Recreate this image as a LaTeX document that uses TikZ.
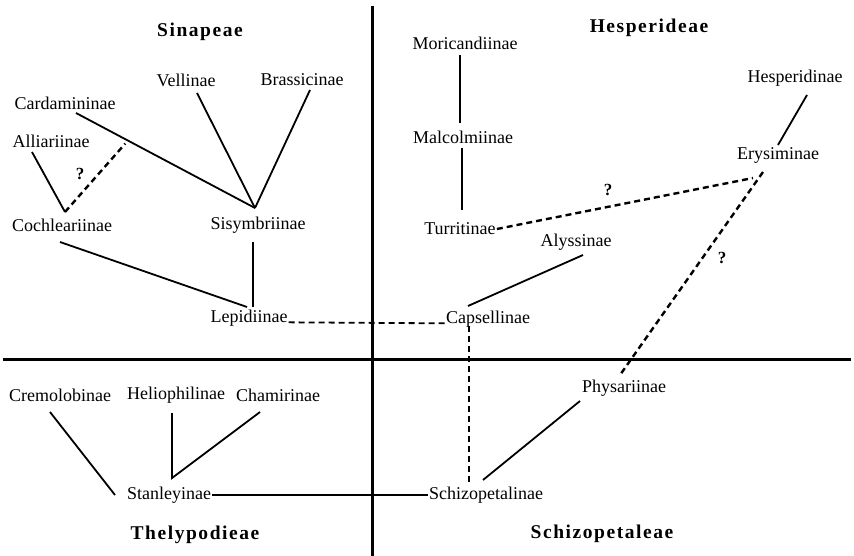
\documentclass[tikz,border=0pt]{standalone}
\usepackage{fontspec}
\setmainfont{Liberation Serif}
\newfontfamily\headfont[LetterSpace=8]{Liberation Serif}
\tikzstyle{link} = [line width=1.8pt]

\begin{document}
\begin{tikzpicture}
        [
            x=1pt, y=-1pt,
            tribe/.style={font=\headfont\bfseries\fontsize{19.5}{22}\selectfont, inner sep=0pt},
            sub/.style={font=\fontsize{18}{20}\selectfont, inner sep=1pt},
            qmark/.style={font=\bfseries\fontsize{17}{19}\selectfont, inner sep=0pt},
            guess/.style={line width=2.4pt, dash pattern=on 6pt off 4pt},
            axis/.style={line width=3pt},
        ]
    \useasboundingbox (0,0) rectangle (854,556);
    \fill[white] (0,0) rectangle (854,556);

    % quadrants
    \draw[axis] (372,6) -- (372,556);
    \draw[axis] (3,359) -- (851,359);

    \node[tribe] (sinap) at (200,32) {Sinapeae};
    \node[tribe] (hesp) at (649,28) {Hesperideae};
    \node[tribe] (thely) at (195,535) {Thelypodieae};
    \node[tribe] (schizh) at (602,534) {Schizopetaleae};

    \node[sub] (vell) at (186,80) {Vellinae};
    \node[sub] (brass) at (302,80) {Brassicinae};
    \node[sub] (cardam) at (65,103) {Cardamininae};
    \node[sub] (alliar) at (51,141) {Alliariinae};
    \node[sub] (cochl) at (62,225) {Cochleariinae};
    \node[sub] (sisym) at (258,225) {Sisymbriinae};
    \node[sub] (lepid) at (249,318) {Lepidiinae};

    \node[sub] (moric) at (465,43) {Moricandiinae};
    \node[sub] (malco) at (463,137) {Malcolmiinae};
    \node[sub] (turri) at (460,229) {Turritinae};
    \node[sub] (alyss) at (576,242) {Alyssinae};
    \node[sub] (capse) at (488,319) {Capsellinae};
    \node[sub] (hespe) at (795,78) {Hesperidinae};
    \node[sub] (erysi) at (778,155) {Erysiminae};
    \node[sub] (physa) at (624,388) {Physariinae};

    \node[sub] (cremo) at (60,395) {Cremolobinae};
    \node[sub] (helio) at (176,395) {Heliophilinae};
    \node[sub] (chami) at (278,395) {Chamirinae};
    \node[sub] (stanl) at (169,495) {Stanleyinae};
    \node[sub] (schiz) at (486,495) {Schizopetalinae};

    \node[qmark] (q1) at (80,174) {?};
    \node[qmark] (q2) at (608,190) {?};
    \node[qmark] (q3) at (722,258) {?};

    % Sinapeae
    \draw[link] ([shift={(11,10)}]cardam.center) -- ([shift={(-3,-17)}]sisym.center)
        coordinate[pos=0.29] (cardjoin);
    \draw[link] ([shift={(11,13)}]vell.center) -- ([shift={(-3,-17)}]sisym.center);
    \draw[link] ([shift={(8,10)}]brass.center) -- ([shift={(-3,-17)}]sisym.center);
    \draw[link] ([shift={(-19,11)}]alliar.center) -- ([shift={(3,-13)}]cochl.center);
    \draw[guess, shorten >=4pt] ([shift={(3,-13)}]cochl.center) -- (cardjoin);
    \draw[link] ([shift={(-5,17)}]sisym.center) -- ([shift={(4,-11)}]lepid.center);
    \draw[link] ([shift={(-2,17)}]cochl.center) -- ([shift={(-2,-11)}]lepid.center);
    \draw[guess, line width=1.8pt] (lepid.base east) -- (capse.base west);

    % Hesperideae
    \draw[link] ([shift={(-5,12)}]moric.center) -- ([shift={(-3,-14)}]malco.center);
    \draw[link] ([shift={(-1,11)}]malco.center) -- ([shift={(2,-19)}]turri.center);
    \draw[guess] (turri.east) -- ([shift={(-25,23)}]erysi.center);
    \draw[link] ([shift={(12,17)}]hespe.center) -- ([shift={(0,-10)}]erysi.center);
    \draw[guess] ([shift={(-15,17)}]erysi.center) -- ([shift={(-4,-13)}]physa.center);
    \draw[link] ([shift={(7,13)}]alyss.center) -- ([shift={(-20,-13)}]capse.center);

    % Schizopetaleae
    \draw[guess] ([shift={(-19,7)}]capse.center) -- ([shift={(-17,-12)}]schiz.center);
    \draw[link] ([shift={(-44,13)}]physa.center) -- ([shift={(-3,-15)}]schiz.center);

    % Thelypodieae
    \draw[link] (stanl.east) -- (schiz.west);
    \draw[link] ([shift={(-10,17)}]cremo.center) -- ([shift={(-54,0)}]stanl.center);
    \draw[link] ([shift={(-4,18)}]helio.center) -- ([shift={(3,-17)}]stanl.center)
        -- ([shift={(-18,17)}]chami.center);
\end{tikzpicture}
\end{document}
